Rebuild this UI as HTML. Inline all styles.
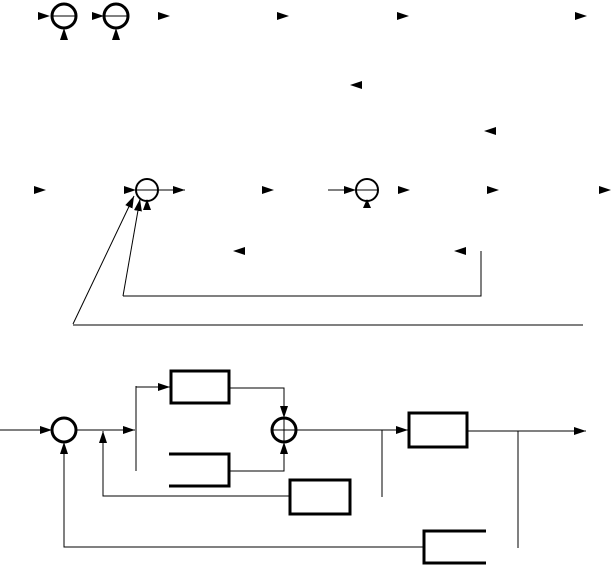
<!DOCTYPE html>
<html><head><style>html,body{margin:0;padding:0;background:#fff;}</style></head><body>
<svg width="611" height="565" viewBox="0 0 611 565" xmlns="http://www.w3.org/2000/svg">
<defs>
<marker id="a" markerWidth="12" markerHeight="8" refX="12" refY="4" orient="auto" markerUnits="userSpaceOnUse"><path d="M0,0L12,4L0,8Z" fill="#000"/></marker>
</defs>
<g fill="#000">
<!-- standalone arrowheads top -->
<path d="M38,12L50,16L38,20Z"/><path d="M92,12L104,16L92,20Z"/>
<path d="M60,40L64,28L68,40Z"/><path d="M112,40L116,28L120,40Z"/>
<path d="M158,12L170,16L158,20Z"/><path d="M277,12L289,16L277,20Z"/>
<path d="M397,12L409,16L397,20Z"/><path d="M575,12L587,16L575,20Z"/>
<path d="M362,81L350,85L362,89Z"/><path d="M496,127L484,131L496,135Z"/>
<path d="M34,186L46,190L34,194Z"/><path d="M124,186L136,190L124,194Z"/>
<path d="M262,186L274,190L262,194Z"/><path d="M398,186L410,190L398,194Z"/>
<path d="M487,186L499,190L487,194Z"/><path d="M599,186L611,190L599,194Z"/>
<path d="M245,247L233,251L245,255Z"/><path d="M466,247L454,251L466,255Z"/>
<path d="M143,210L147,199L151,210Z"/><path d="M363,208L367,199L371,208Z"/>
</g>
<g fill="none" stroke="#000">
<circle cx="64" cy="16" r="12" stroke-width="3"/><line x1="52" y1="16" x2="76" y2="16" stroke-width="1"/>
<circle cx="116" cy="16" r="12" stroke-width="3"/><line x1="104" y1="16" x2="128" y2="16" stroke-width="1"/>
<circle cx="147" cy="190" r="11" stroke-width="2"/><line x1="136" y1="190" x2="158" y2="190" stroke-width="1"/>
<line x1="158" y1="190" x2="185" y2="190" marker-end="url(#a)"/>
<circle cx="367" cy="190" r="11" stroke-width="2"/><line x1="356" y1="190" x2="378" y2="190" stroke-width="1"/>
<line x1="328" y1="190" x2="356" y2="190" marker-end="url(#a)"/>
<polyline points="481,251 481,296 123,296"/>
<line x1="123" y1="296" x2="140" y2="199" marker-end="url(#a)"/>
<line x1="73" y1="324" x2="134" y2="196" marker-end="url(#a)"/>
<line x1="73" y1="325" x2="583" y2="325"/>
<!-- bottom -->
<line x1="0" y1="430" x2="52" y2="430" marker-end="url(#a)"/>
<circle cx="64" cy="430" r="12" stroke-width="3"/>
<line x1="76" y1="430" x2="135" y2="430" marker-end="url(#a)"/>
<line x1="136" y1="386" x2="136" y2="471"/>
<line x1="136" y1="387" x2="170" y2="387" marker-end="url(#a)"/>
<rect x="171" y="371" width="58" height="32" stroke-width="3"/>
<polyline points="229,388 284,388 284,418" marker-end="url(#a)"/>
<polyline points="169,454 229,454 229,486 169,486" stroke-width="3"/>
<polyline points="229,471 284,471 284,442" marker-end="url(#a)"/>
<circle cx="284" cy="430" r="12" stroke-width="3"/>
<line x1="272" y1="430" x2="296" y2="430" stroke-width="1"/><line x1="284" y1="418" x2="284" y2="442" stroke-width="1"/>
<line x1="296" y1="430" x2="408" y2="430" marker-end="url(#a)"/>
<line x1="382" y1="430" x2="382" y2="497"/>
<rect x="409" y="413" width="58" height="34" stroke-width="3"/>
<line x1="467" y1="431" x2="586" y2="431" marker-end="url(#a)"/>
<line x1="518" y1="431" x2="518" y2="548"/>
<rect x="290" y="480" width="60" height="34" stroke-width="3"/>
<polyline points="290,496 103,496 103,431" marker-end="url(#a)"/>
<polyline points="486,531 424,531 424,563 486,563" stroke-width="3"/>
<polyline points="424,547 64,547 64,442" marker-end="url(#a)"/>
</g>
</svg>
</body></html>
